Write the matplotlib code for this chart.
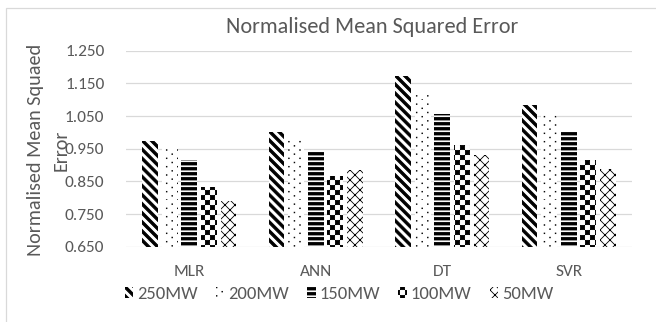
import numpy as np
import matplotlib
matplotlib.use("Agg")
import matplotlib.pyplot as plt
import matplotlib.hatch as mhatch
from matplotlib.path import Path
from matplotlib.patches import Rectangle

# ---------------- data ----------------
categories = ["MLR", "ANN", "DT", "SVR"]
series_names = ["250MW", "200MW", "150MW", "100MW", "50MW"]
mw250 = [0.975, 1.002, 1.172, 1.083]
mw200 = [0.955, 0.979, 1.121, 1.052]
mw150 = [0.914, 0.941, 1.057, 1.002]
mw100 = [0.832, 0.865, 0.961, 0.915]
mw50 = [0.789, 0.884, 0.931, 0.887]
series_values = [mw250, mw200, mw150, mw100, mw50]
y_ticks = [0.650, 0.750, 0.850, 0.950, 1.050, 1.150, 1.250]
title_text = "Normalised Mean Squared Error"
ylabel_text = "Normalised Mean Squaed\nError"

# ---------------- custom hatch patterns ----------------
def _polys_to_vc(polys):
    verts, codes = [], []
    for p in polys:
        verts.extend(p)
        verts.append(p[0])
        codes.extend([Path.MOVETO] + [Path.LINETO] * (len(p) - 1) + [Path.CLOSEPOLY])
    return np.array(verts, float), np.array(codes, Path.code_type)

def _lines_to_vc(lines):
    verts, codes = [], []
    for a, b in lines:
        verts.extend([a, b])
        codes.extend([Path.MOVETO, Path.LINETO])
    return np.array(verts, float), np.array(codes, Path.code_type)

class _Custom(mhatch.HatchPatternBase):
    char = "?"
    def __init__(self, hatch, density):
        if hatch.count(self.char) > 0:
            self.v, self.c = self.build()
            self.num_vertices = len(self.v)
        else:
            self.num_vertices = 0
    def set_vertices_and_codes(self, vertices, codes):
        vertices[:] = self.v
        codes[:] = self.c

class DiagStripes(_Custom):
    char = "\\"
    def build(self):
        n, w = 11, 0.40 / 11
        polys = []
        x0, x1 = -0.3, 1.3
        for k in range(-4, 2 * n + 5):
            c = k / n
            polys.append([(x0, c - x0), (x1, c - x1), (x1, c + w - x1), (x0, c + w - x0)])
        return _polys_to_vc(polys)

class HStripes(_Custom):
    char = "-"
    def build(self):
        n, f = 20, 0.52 / 20
        polys = []
        for k in range(n + 1):
            y = k / n
            polys.append([(-0.1, y), (1.1, y), (1.1, y + f), (-0.1, y + f)])
        return _polys_to_vc(polys)

class Checker(_Custom):
    char = "O"
    def build(self):
        n, s = 20, 0.004
        polys = []
        for i in range(n):
            for j in range(n):
                if (i + j) % 2 == 0:
                    a, b = i / n + s, (i + 1) / n - s
                    c, d = j / n + s, (j + 1) / n - s
                    polys.append([(a, c), (b, c), (b, d), (a, d)])
        return _polys_to_vc(polys)

class Dots(_Custom):
    char = "."
    def build(self):
        rows, cols, h = 24, 9, 0.003
        polys = []
        for i in range(rows):
            off = 0.5 / cols if i % 2 else 0.0
            for j in range(cols + 1):
                x = j / cols + off
                y = i / rows
                polys.append([(x - h, y - h), (x + h, y - h), (x + h, y + h), (x - h, y + h)])
        return _polys_to_vc(polys)

class Cross(_Custom):
    char = "x"
    def build(self):
        m = 10
        lines = []
        for k in range(-m - 2, 2 * m + 3):
            c = k / m
            lines.append(((-0.3, c + 0.3), (1.3, c - 1.3)))
            lines.append(((-0.3, -0.3 - c), (1.3, 1.3 - c)))
        return _lines_to_vc(lines)

mhatch._hatch_types = [DiagStripes, HStripes, Checker, Dots, Cross]
plt.rcParams["hatch.linewidth"] = 0.6

# ---------------- style ----------------
plt.rcParams["font.family"] = ["Carlito", "Lato", "DejaVu Sans"]
grey = "#595959"
grid_grey = "#d9d9d9"
hatches = ["\\", ".", "-", "O", "x"]

W, H, DPI = 656, 322, 100
fig = plt.figure(figsize=(W / DPI, H / DPI), dpi=DPI)
fig.patch.set_facecolor("white")

# outer chart border
fig.patches.append(Rectangle((6 / W, -0.5), 2.0, 1 - 8 / H + 0.5, transform=fig.transFigure,
                             facecolor="none", edgecolor=grid_grey, linewidth=0.9))

ax = fig.add_axes([126 / W, 1 - 246.7 / H, 506 / W, (246.7 - 50.7) / H])
x = np.arange(len(categories))
pitch = 0.155
bw = 0.125
for i, (name, vals, ht) in enumerate(zip(series_names, series_values, hatches)):
    ax.bar(x + (i - 2) * pitch, vals, width=bw, color="white", edgecolor="black",
           linewidth=0, hatch=ht, label=name, zorder=2)

ax.set_xlim(-0.5, len(categories) - 0.5)
ax.set_ylim(y_ticks[0], y_ticks[-1])
ax.set_yticks(y_ticks)
ax.set_yticklabels([f"{t:.3f}" for t in y_ticks])
ax.set_xticks(x)
ax.set_xticklabels(categories)
ax.yaxis.grid(True, color=grid_grey, linewidth=0.9, zorder=0)
ax.set_axisbelow(True)
for s in ax.spines.values():
    s.set_visible(False)
ax.tick_params(axis="y", length=0, pad=15.5, labelsize=12.4, labelcolor=grey)
ax.tick_params(axis="x", length=0, pad=13, labelsize=12.4, labelcolor=grey)

fig.text(372 / W, 1 - 27 / H, title_text, ha="center", va="center", fontsize=16, color=grey)
fig.text(48.3 / W, 1 - 150 / H, ylabel_text, ha="center", va="center", rotation=90,
         multialignment="center", fontsize=14.5, color=grey, linespacing=1.55)

leg = fig.legend(loc="center", bbox_to_anchor=(339 / W, 1 - 294 / H), ncol=5, frameon=False,
                 fontsize=13.3, handlelength=0.45, handleheight=0.6, handletextpad=0.2,
                 columnspacing=1.0, borderpad=0, labelcolor=grey)

fig.savefig("out.png", dpi=DPI)
